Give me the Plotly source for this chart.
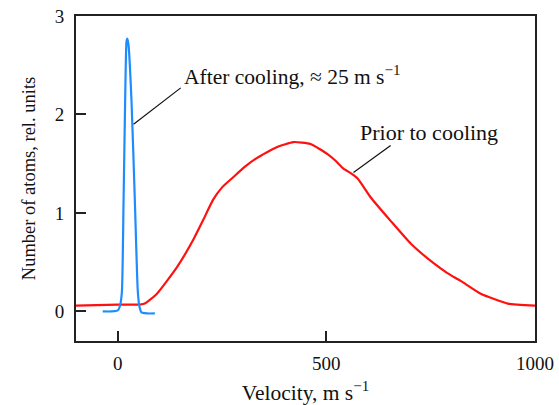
import plotly.graph_objects as go

# Prior to cooling (red)
v_prior = [-100, -50, 0, 53, 65, 94, 142, 180, 205, 228, 250, 276, 305, 334, 382, 421, 462, 502, 522, 541, 560, 575, 606, 654, 702, 757, 790, 822, 870, 935, 1000]
n_prior = [0.06, 0.065, 0.07, 0.07, 0.08, 0.18, 0.45, 0.72, 0.93, 1.13, 1.26, 1.36, 1.47, 1.56, 1.67, 1.72, 1.70, 1.60, 1.53, 1.45, 1.40, 1.35, 1.16, 0.92, 0.69, 0.49, 0.39, 0.31, 0.18, 0.08, 0.06]

# After cooling (blue)
v_after = [-36, -15, 0, 5, 10, 14, 18, 21, 23, 26, 33, 41, 48, 52, 57, 70, 89]
n_after = [0.0, 0.0, 0.01, 0.05, 0.20, 1.13, 2.20, 2.74, 2.77, 2.70, 2.14, 1.13, 0.21, 0.05, -0.01, -0.02, -0.02]

x_ticks = [0, 500, 1000]
y_ticks = [0, 1, 2, 3]

font = "Liberation Serif"
axis_col = "#222222"

fig = go.Figure()
fig.add_trace(go.Scatter(x=v_prior, y=n_prior, mode="lines",
                         line=dict(color="#ff1010", width=2.2, shape="spline", smoothing=0.5),
                         showlegend=False, hoverinfo="skip"))
fig.add_trace(go.Scatter(x=v_after, y=n_after, mode="lines",
                         line=dict(color="#1e8cff", width=2.2, shape="spline", smoothing=0.5),
                         showlegend=False, hoverinfo="skip"))

fig.update_layout(
    width=559, height=405,
    margin=dict(l=76, r=24, t=16, b=64, autoexpand=False),
    paper_bgcolor="white", plot_bgcolor="white",
    font=dict(family=font, size=19, color="#111111"),
    xaxis=dict(range=[-100, 1000], tickvals=x_ticks, ticks="inside", ticklen=10,
               tickwidth=1.5, tickcolor=axis_col, showgrid=False, zeroline=False,
               showline=True, linecolor=axis_col, linewidth=2, mirror=True, automargin=False,
               ticklabelstandoff=4, ticklabeloverflow="allow",
               title=dict(text="Velocity, m s<sup>−1</sup>", font=dict(size=21.5), standoff=14),
               tickfont=dict(size=19)),
    yaxis=dict(range=[-0.3, 3], tickvals=y_ticks, ticks="inside", ticklen=10,
               tickwidth=1.5, tickcolor=axis_col, showgrid=False, zeroline=False,
               showline=True, linecolor=axis_col, linewidth=2, mirror=True, automargin=False,
               ticklabelstandoff=6, ticklabeloverflow="allow",
               title=dict(text="Number of atoms, rel. units", font=dict(size=18.5), standoff=14),
               tickfont=dict(size=19)),
)

# leader lines
fig.add_shape(type="line", x0=38, y0=1.90, x1=151, y1=2.27, xref="x", yref="y",
              line=dict(color="#111111", width=1.2))
fig.add_shape(type="line", x0=565, y0=1.41, x1=654, y1=1.684, xref="x", yref="y",
              line=dict(color="#111111", width=1.2))
# labels
fig.add_annotation(x=154, y=2.40, text="After cooling, ≈ 25 m s<sup>−1</sup>", showarrow=False,
                   xanchor="left", yanchor="middle", font=dict(size=21.5, family=font))
fig.add_annotation(x=577, y=1.82, text="Prior to cooling", showarrow=False,
                   xanchor="left", yanchor="middle", font=dict(size=22, family=font))

fig.write_html("out.html", config={"displayModeBar": False},
               post_script="document.body.style.margin='0';")
